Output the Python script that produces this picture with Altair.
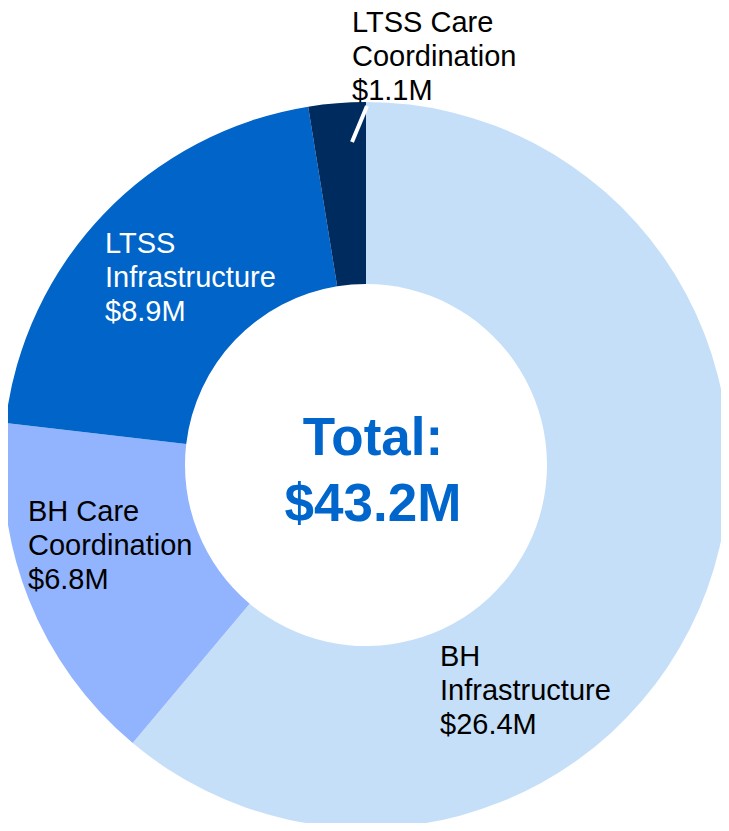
import altair as alt
import pandas as pd

categories = ["BH Infrastructure", "BH Care Coordination", "LTSS Infrastructure", "LTSS Care Coordination"]
values = [26.4, 6.8, 8.9, 1.1]
label_texts = ["BH\nInfrastructure\n$26.4M", "BH Care\nCoordination\n$6.8M", "LTSS\nInfrastructure\n$8.9M", "LTSS Care\nCoordination\n$1.1M"]
colors = ["#C5DFF9", "#92B4FE", "#0064C8", "#002B5F"]
label_colors = ["#000000", "#000000", "#FFFFFF", "#000000"]
total_text = "Total:\n$43.2M"

# label anchor layout (annotation positions, chart pixel coords)
label_pos = [(432, 635), (20, 490), (97, 222), (344, 1)]

W, H = 713, 815
CX, CY = 358, 457
FONT = "Liberation Sans"

df = pd.DataFrame({"category": categories, "value": values, "order": list(range(len(values)))})

arcs = alt.Chart(df).mark_arc(innerRadius=181, stroke=None).encode(
    theta=alt.Theta("value:Q", stack=True),
    order=alt.Order("order:Q"),
    color=alt.Color("category:N", scale=alt.Scale(domain=categories, range=colors), legend=None),
    radius=alt.value(363),
    x=alt.value(CX),
    y=alt.value(CY),
)

layers = [arcs]

leader = alt.Chart(pd.DataFrame({"a": [0]})).mark_rule(color="white", strokeWidth=4).encode(
    x=alt.value(344), y=alt.value(134), x2=alt.value(359), y2=alt.value(98)
)
layers.append(leader)

for txt, (lx, ly), col in zip(label_texts, label_pos, label_colors):
    layers.append(
        alt.Chart(pd.DataFrame({"t": [txt.split("\n")]})).mark_text(
            align="left", baseline="top", font=FONT, fontSize=29, lineHeight=34, color=col
        ).encode(text="t", x=alt.value(lx), y=alt.value(ly))
    )

layers.append(
    alt.Chart(pd.DataFrame({"t": [total_text.split("\n")]})).mark_text(
        align="center", baseline="top", font=FONT, fontSize=53, fontWeight="bold", lineHeight=66, color="#0066CC"
    ).encode(text="t", x=alt.value(365), y=alt.value(405))
)

chart = alt.layer(*layers).properties(
    width=W, height=H, autosize=alt.AutoSizeParams(type="none"), padding=0
).configure_view(stroke=None)

chart.save("out.html", embed_options={"renderer": "svg", "actions": False})
